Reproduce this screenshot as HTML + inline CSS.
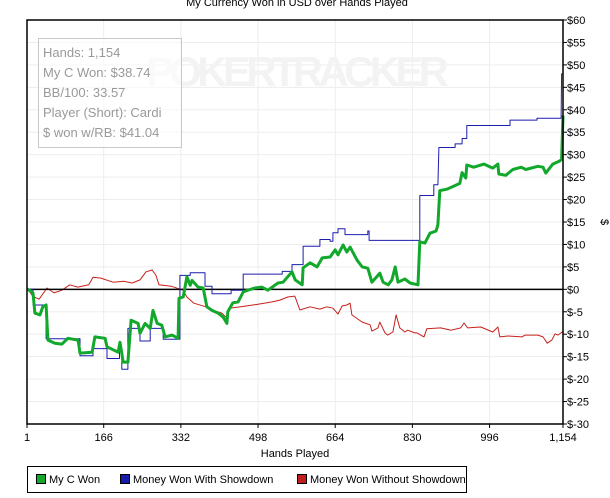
<!DOCTYPE html>
<html><head><meta charset="utf-8"><style>
body{margin:0;background:#fff;width:610px;height:498px;overflow:hidden;font-family:"Liberation Sans",Arial,sans-serif;}
#wrap{position:relative;width:610px;height:498px;}
svg{position:absolute;left:0;top:0;}
.legend{position:absolute;left:27px;top:466px;width:440px;height:27px;border:1px solid #000;box-sizing:border-box;font-size:11px;}
.li{position:absolute;top:7px;height:12px;line-height:12px;white-space:nowrap;}
.sw{display:inline-block;width:8px;height:8px;border:1px solid #000;vertical-align:-1px;margin-right:3px;}
</style></head><body>
<div id="wrap">
<svg id="chart" width="610" height="498"></svg>
<div class="legend">
 <div class="li" style="left:8px"><span class="sw" style="background:#12a82c"></span>My C Won</div>
 <div class="li" style="left:92px"><span class="sw" style="background:#1a1aa8"></span>Money Won With Showdown</div>
 <div class="li" style="left:269px"><span class="sw" style="background:#c0201c"></span>Money Won Without Showdown</div>
</div>
</div>
<script>
const xTicks=[1,166,332,498,664,830,996,1154];
const xTickLabels=["1","166","332","498","664","830","996","1,154"];
const yTicks=[60,55,50,45,40,35,30,25,20,15,10,5,0,-5,-10,-15,-20,-25,-30];
const greenHands=[1,3,14,18,29,35,42,46,61,76,89,111,115,141,147,169,173,197,201,208,218,225,240,244,255,266,272,281,291,298,313,326,328,337,345,352,356,369,380,388,399,412,423,431,433,444,455,466,476,491,506,519,541,552,571,578,593,595,610,625,636,653,664,670,681,689,696,711,722,734,743,760,767,778,786,793,799,814,825,842,846,857,868,881,885,889,904,919,932,937,945,947,962,984,1003,1014,1016,1031,1046,1064,1074,1100,1111,1117,1132,1147,1151,1154];
const greenVals=[0,0,-0.8,-5.3,-5.7,-3.9,-3.5,-11.3,-12,-12.2,-10.9,-11.3,-14.2,-14,-10.6,-10.9,-12.8,-14,-11.8,-16.2,-16.2,-6.9,-7.6,-9.8,-7.6,-8.7,-4.7,-7.6,-8,-10.6,-10.2,-10.9,-2,-1.7,2.8,0.9,2,0.5,0.3,-3.9,-4.7,-5.3,-6.2,-7.6,-5,-3,-2.8,-0.6,-0.2,0.3,0.5,-0.2,1.4,1.6,3.9,2.1,1.0,4.8,5.9,5,7,7.2,8.8,7.7,9.9,8.3,9.4,6.5,5,4.7,1.6,3.6,1.6,1,2.1,5,1.6,2.3,1.4,1,10.6,10.3,12.5,13,14.4,22,22.3,23,23.6,26,24.8,27.7,27.2,27.9,27,27.9,25.7,25.4,26.7,27.2,26.7,27.4,27.2,25.9,27.9,28.6,29,38.7];
const blueHands=[1,14,14,42,42,115,115,143,143,173,173,200,200,205,205,218,218,244,244,266,266,294,294,330,330,352,352,384,384,399,399,440,440,466,466,550,550,571,571,595,595,631,631,653,653,659,659,670,670,685,685,734,734,737,737,846,846,876,876,885,887,922,922,937,937,947,947,1040,1040,1098,1098,1150,1151,1154];
const blueVals=[0,0,-3.5,-3.5,-11,-11,-14.8,-14.8,-13.2,-13.2,-15.4,-15.4,-13.5,-13.5,-17.8,-17.8,-8.7,-8.7,-11.5,-11.5,-8.7,-8.7,-11.1,-11.1,3.1,3.1,3.7,3.7,0.7,0.7,-1,-1,-0.2,-0.2,3.4,3.4,4,4,5.5,5.5,9.6,9.6,11.1,11.1,10.7,10.7,12.6,12.6,13.5,13.5,12.2,12.2,13,13,10.9,10.9,20.9,20.9,23.3,23.3,31.6,31.6,32.4,32.4,33.6,33.6,36.5,36.5,37.7,37.7,38.1,38.1,48,48];
const redHands=[1,3,14,27,44,59,76,93,110,134,143,160,186,209,227,244,257,270,278,285,311,337,345,360,386,399,420,429,436,461,487,511,528,545,562,577,588,610,631,646,659,670,679,689,696,700,722,739,743,756,760,771,777,788,795,803,814,820,835,840,855,861,891,913,934,941,949,977,1003,1014,1018,1036,1066,1072,1100,1111,1120,1130,1137,1143,1152,1154];
const redVals=[0,0,-1.6,-2.2,0.3,-0.8,-0.2,1,0.5,1,2.7,2.5,1.6,1.8,1.4,2.1,3.9,4.3,3.2,1,0.7,-0.2,-1.7,-3.1,-3.9,-4.6,-5.3,-6.2,-4.2,-3.9,-3.5,-3.1,-2.8,-2.4,-1.7,-1.5,-4.6,-3.9,-4.4,-3.9,-4.2,-5.5,-3.7,-3.5,-3.1,-5.7,-7.3,-7.9,-9.3,-8.6,-7.3,-9.7,-10.2,-9.5,-5.7,-8.6,-9.5,-9.1,-9.7,-9.7,-10.6,-8.8,-8.6,-9.1,-8.6,-7.5,-8.6,-8.4,-9.5,-8.4,-10.6,-10.4,-10.6,-10.2,-10.2,-10.6,-12,-11.3,-9.9,-10.2,-9.5,-9.7];

const L=27,R=563,T=20,B=424,XMIN=1,XMAX=1154,YMIN=-30,YMAX=60;
const xs=h=>L+(h-XMIN)/(XMAX-XMIN)*(R-L);
const ys=v=>B-(v-YMIN)/(YMAX-YMIN)*(B-T);
const svg=document.getElementById('chart');
const NS='http://www.w3.org/2000/svg';
function mk(tag,attrs){const e=document.createElementNS(NS,tag);for(const k in attrs)e.setAttribute(k,attrs[k]);svg.appendChild(e);return e;}

let t=mk('text',{x:297,y:6,'text-anchor':'middle','font-size':'11','fill':'#000'});
t.textContent='My Currency Won in USD over Hands Played';



yTicks.forEach(v=>{
  const g=mk('line',{x1:L,x2:R,y1:ys(v),y2:ys(v),stroke:'#ededed','stroke-width':1});
  
  
  const tk=mk('line',{x1:R,x2:R+4,y1:ys(v),y2:ys(v),stroke:'#000'});
  
  
  const lb=mk('text',{x:R+4,y:ys(v)+4,'font-size':'11',fill:'#000'});
  lb.textContent='$'+v;
  
  
});
xTicks.forEach((h,i)=>{
  const g=mk('line',{x1:xs(h),x2:xs(h),y1:T,y2:B,stroke:'#ededed'});
  
  
  const tk=mk('line',{x1:xs(h),x2:xs(h),y1:B,y2:B+4,stroke:'#000'});
  
  
  const lb=mk('text',{x:xs(h),y:B+17,'font-size':'11','text-anchor':'middle',fill:'#000'});
  lb.textContent=xTickLabels[i];
  
  
});

let wm=mk('text',{x:146,y:86,'font-size':'42','font-weight':'bold',fill:'#f3f3f3','textLength':'303'});
wm.textContent='POKERTRACKER';



let ib=mk('rect',{x:38.5,y:38.5,width:143,height:109,fill:'rgba(255,255,255,0.6)',stroke:'#c8c8c8'});


['Hands: 1,154','My C Won: $38.74','BB/100: 33.57','Player (Short): Cardi','$ won w/RB: $41.04'].forEach((s,i)=>{
  const e=mk('text',{x:43,y:57+i*20,'font-size':'13',fill:'#999'});
  e.textContent=s;
  
  
});

function path(hs,vs,color,w,name){
  let d=hs.map((h,i)=>(i?'L':'M')+xs(h).toFixed(1)+' '+ys(vs[i]).toFixed(1)).join(' ');
  const p=mk('path',{d:d,fill:'none',stroke:color,'stroke-width':w,'stroke-linejoin':'round'});
  
  
}
path(redHands,redVals,'#c8201c',1,'series-without-showdown');
let z=mk('line',{x1:L,x2:R,y1:ys(0),y2:ys(0),stroke:'#000','stroke-width':1.5});


path(blueHands,blueVals,'#1c1cae',1,'series-with-showdown');
path(greenHands,greenVals,'#12a82c',3,'series-my-c-won');

let ax=mk('rect',{x:L,y:T,width:R-L,height:B-T,fill:'none',stroke:'#000','stroke-width':1.5});


let xt=mk('text',{x:295,y:457,'font-size':'11','text-anchor':'middle',fill:'#000'});
xt.textContent='Hands Played';


let yt=mk('text',{x:0,y:0,'font-size':'11','text-anchor':'middle',fill:'#000',transform:'translate(601,222) rotate(90)'});
yt.textContent='$';


</script>
</body></html>
